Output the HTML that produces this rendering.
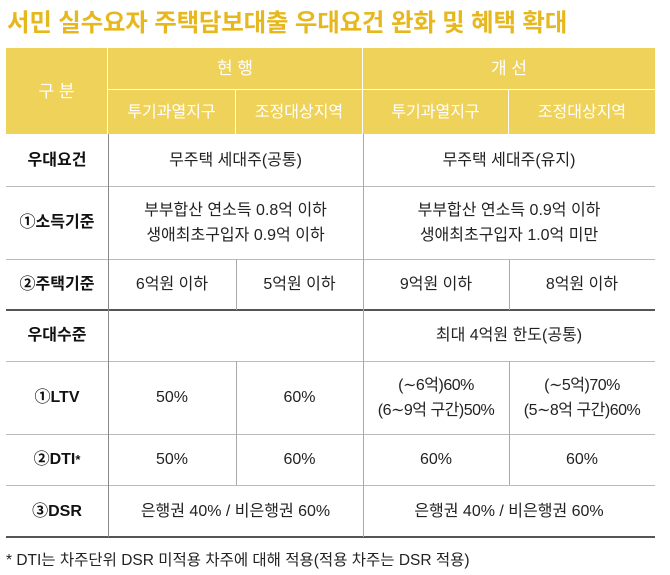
<!DOCTYPE html>
<html><head><meta charset="utf-8"><style>
body{margin:0;width:670px;height:575px;background:#fff;font-family:"Liberation Sans","Noto Sans CJK KR",sans-serif;position:relative;overflow:hidden;color:#222}
.t{position:absolute;left:7px;top:4px;font-size:24.5px;font-weight:bold;color:#e7b81e;letter-spacing:-0.2px}
.c{position:absolute;display:flex;align-items:center;justify-content:center;text-align:center;box-sizing:border-box;font-size:16px;line-height:25px}
.h{background:#efd25a;color:#fff;font-size:17px}
.b{font-weight:bold;font-size:16px;color:#111}
.hl{position:absolute;left:6px;width:649px;height:1px;background:#bbb}
.dk{background:#555;height:2px}
.vl{position:absolute;width:1px;background:#aaa}
.f{position:absolute;left:6px;top:548px;font-size:15.5px;color:#222}
</style></head><body>
<div class="t">서민 실수요자 주택담보대출 우대요건 완화 및 혜택 확대</div>
<div class="c h" style="left:6px;top:48px;width:102px;height:86px;border-right:1px solid #fff">구 분</div>
<div class="c h" style="left:108px;top:48px;width:255px;height:42px;border-right:1px solid #fff;border-bottom:1px solid #fff">현 행</div>
<div class="c h" style="left:363px;top:48px;width:292px;height:42px;border-bottom:1px solid #fff">개 선</div>
<div class="c h" style="left:108px;top:90px;width:128px;height:44px;border-right:1px solid #fff;font-size:16px">투기과열지구</div>
<div class="c h" style="left:236px;top:90px;width:127px;height:44px;border-right:1px solid #fff;font-size:16px">조정대상지역</div>
<div class="c h" style="left:363px;top:90px;width:146px;height:44px;border-right:1px solid #fff;font-size:16px">투기과열지구</div>
<div class="c h" style="left:509px;top:90px;width:146px;height:44px;font-size:16px">조정대상지역</div>

<div class="hl" style="top:186px"></div>
<div class="hl" style="top:259px"></div>
<div class="hl dk" style="top:309px"></div>
<div class="hl" style="top:361px"></div>
<div class="hl" style="top:434px"></div>
<div class="hl" style="top:485px"></div>
<div class="hl dk" style="top:536px"></div>
<div class="vl" style="left:108px;top:134px;height:403px;background:#888"></div>
<div class="vl" style="left:363px;top:134px;height:403px"></div>
<div class="vl" style="left:236px;top:259px;height:51px"></div>
<div class="vl" style="left:236px;top:361px;height:124px"></div>
<div class="vl" style="left:509px;top:259px;height:51px"></div>
<div class="vl" style="left:509px;top:361px;height:124px"></div>

<div class="c b" style="left:6px;top:134px;width:102px;height:52px">우대요건</div>
<div class="c" style="left:108px;top:134px;width:255px;height:52px">무주택 세대주(공통)</div>
<div class="c" style="left:363px;top:134px;width:292px;height:52px">무주택 세대주(유지)</div>

<div class="c b" style="left:6px;top:186px;width:102px;height:73px">①소득기준</div>
<div class="c" style="left:108px;top:186px;width:255px;height:73px">부부합산 연소득 0.8억 이하<br>생애최초구입자 0.9억 이하</div>
<div class="c" style="left:363px;top:186px;width:292px;height:73px">부부합산 연소득 0.9억 이하<br>생애최초구입자 1.0억 미만</div>

<div class="c b" style="left:6px;top:259px;width:102px;height:51px">②주택기준</div>
<div class="c" style="left:108px;top:259px;width:128px;height:51px">6억원 이하</div>
<div class="c" style="left:236px;top:259px;width:127px;height:51px">5억원 이하</div>
<div class="c" style="left:363px;top:259px;width:146px;height:51px">9억원 이하</div>
<div class="c" style="left:509px;top:259px;width:146px;height:51px">8억원 이하</div>

<div class="c b" style="left:6px;top:310px;width:102px;height:51px">우대수준</div>
<div class="c" style="left:363px;top:310px;width:292px;height:51px">최대 4억원 한도(공통)</div>

<div class="c b" style="left:6px;top:361px;width:102px;height:73px">①LTV</div>
<div class="c" style="left:108px;top:361px;width:128px;height:73px">50%</div>
<div class="c" style="left:236px;top:361px;width:127px;height:73px">60%</div>
<div class="c" style="left:363px;top:361px;width:146px;height:73px;letter-spacing:-0.5px">(∼6억)60%<br>(6∼9억 구간)50%</div>
<div class="c" style="left:509px;top:361px;width:146px;height:73px;letter-spacing:-0.5px">(∼5억)70%<br>(5∼8억 구간)60%</div>

<div class="c b" style="left:6px;top:434px;width:102px;height:51px">②DTI<sup style="font-size:13px;line-height:0">*</sup></div>
<div class="c" style="left:108px;top:434px;width:128px;height:51px">50%</div>
<div class="c" style="left:236px;top:434px;width:127px;height:51px">60%</div>
<div class="c" style="left:363px;top:434px;width:146px;height:51px">60%</div>
<div class="c" style="left:509px;top:434px;width:146px;height:51px">60%</div>

<div class="c b" style="left:6px;top:485px;width:102px;height:52px">③DSR</div>
<div class="c" style="left:108px;top:485px;width:255px;height:52px">은행권 40% / 비은행권 60%</div>
<div class="c" style="left:363px;top:485px;width:292px;height:52px">은행권 40% / 비은행권 60%</div>

<div class="f">* DTI는 차주단위 DSR 미적용 차주에 대해 적용(적용 차주는 DSR 적용)</div>
</body></html>
